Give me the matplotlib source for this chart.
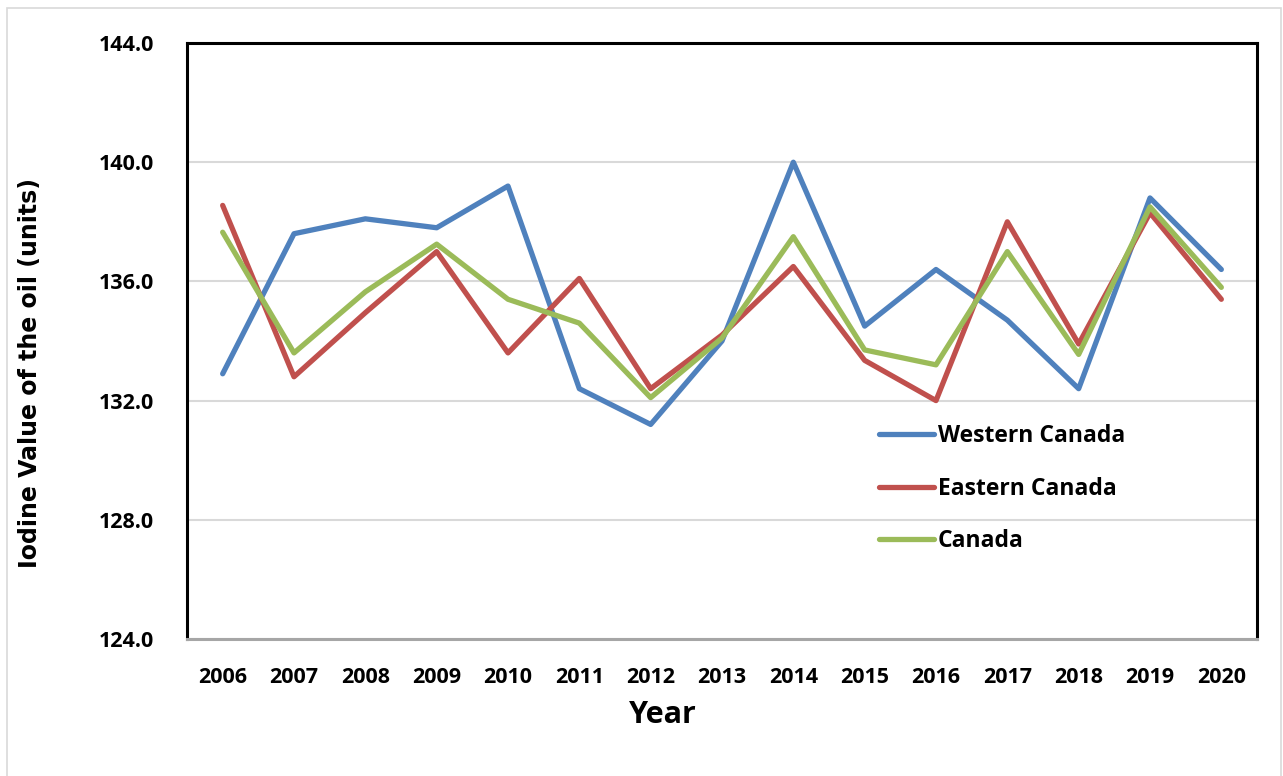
import matplotlib
matplotlib.use("Agg")
import matplotlib.pyplot as plt
from matplotlib.patches import Rectangle

years = ['2006', '2007', '2008', '2009', '2010', '2011', '2012', '2013',
         '2014', '2015', '2016', '2017', '2018', '2019', '2020']
western = [132.9, 137.6, 138.1, 137.8, 139.2, 132.4, 131.2, 134.0,
           140.0, 134.5, 136.4, 134.7, 132.4, 138.8, 136.4]
eastern = [138.55, 132.8, 134.95, 137.0, 133.6, 136.1, 132.4, 134.2,
           136.5, 133.35, 132.0, 138.0, 133.9, 138.3, 135.4]
canada = [137.65, 133.6, 135.65, 137.25, 135.4, 134.6, 132.1, 134.1,
          137.5, 133.7, 133.2, 137.0, 133.55, 138.5, 135.8]
yticks = [124.0, 128.0, 132.0, 136.0, 140.0, 144.0]

plt.rcParams['font.family'] = ['Open Sans', 'DejaVu Sans']

fig = plt.figure(figsize=(12.83, 7.76), dpi=100)
ax = fig.add_axes([187 / 1283, 1 - 639 / 776, 1070 / 1283, 596 / 776])

# thin outer frame round the chart area
fig.patches.append(Rectangle((7 / 1283, -0.01), 1274 / 1283, 1 - 8 / 776 + 0.01,
                             transform=fig.transFigure, fill=False,
                             edgecolor='#D9D9D9', linewidth=1.2))

x = list(range(len(years)))
ax.plot(x, western, color='#4F81BD', linewidth=3.8, label='Western Canada', solid_capstyle='round')
ax.plot(x, eastern, color='#C0504D', linewidth=3.8, label='Eastern Canada', solid_capstyle='round')
ax.plot(x, canada, color='#9BBB59', linewidth=3.8, label='Canada', solid_capstyle='round')

ax.set_xlim(-0.5, len(years) - 0.5)
ax.set_ylim(124, 144)
ax.set_xticks(x)
ax.set_xticklabels(years, fontweight='bold', fontsize=15.5)
ax.set_yticks(yticks)
ax.set_yticklabels(['%.1f' % v for v in yticks], fontweight='bold', fontsize=15.5)
ax.tick_params(axis='both', length=0)
ax.tick_params(axis='x', pad=20)
ax.tick_params(axis='y', pad=24)

ax.grid(axis='y', color='#D9D9D9', linewidth=1.5)
ax.set_axisbelow(True)

for side in ['left', 'top', 'right']:
    ax.spines[side].set_linewidth(2.2)
    ax.spines[side].set_color('black')
ax.spines['bottom'].set_linewidth(2.2)
ax.spines['bottom'].set_color('#A6A6A6')

ax.set_xlabel('Year', fontsize=22, fontweight='bold')
ax.xaxis.set_label_coords(0.445, -0.103)
ax.set_ylabel('Iodine Value of the oil (units)', fontsize=17, fontweight='bold',
              family='DejaVu Sans')
ax.yaxis.set_label_coords(-0.1355, 0.446)

leg = ax.legend(loc='upper left', bbox_to_anchor=(0.627, 0.395), frameon=False,
                prop={'size': 16.5, 'weight': 'bold'}, handlelength=2.4,
                handletextpad=0.2, labelspacing=1.25)

plt.savefig('out.png', dpi=100)
